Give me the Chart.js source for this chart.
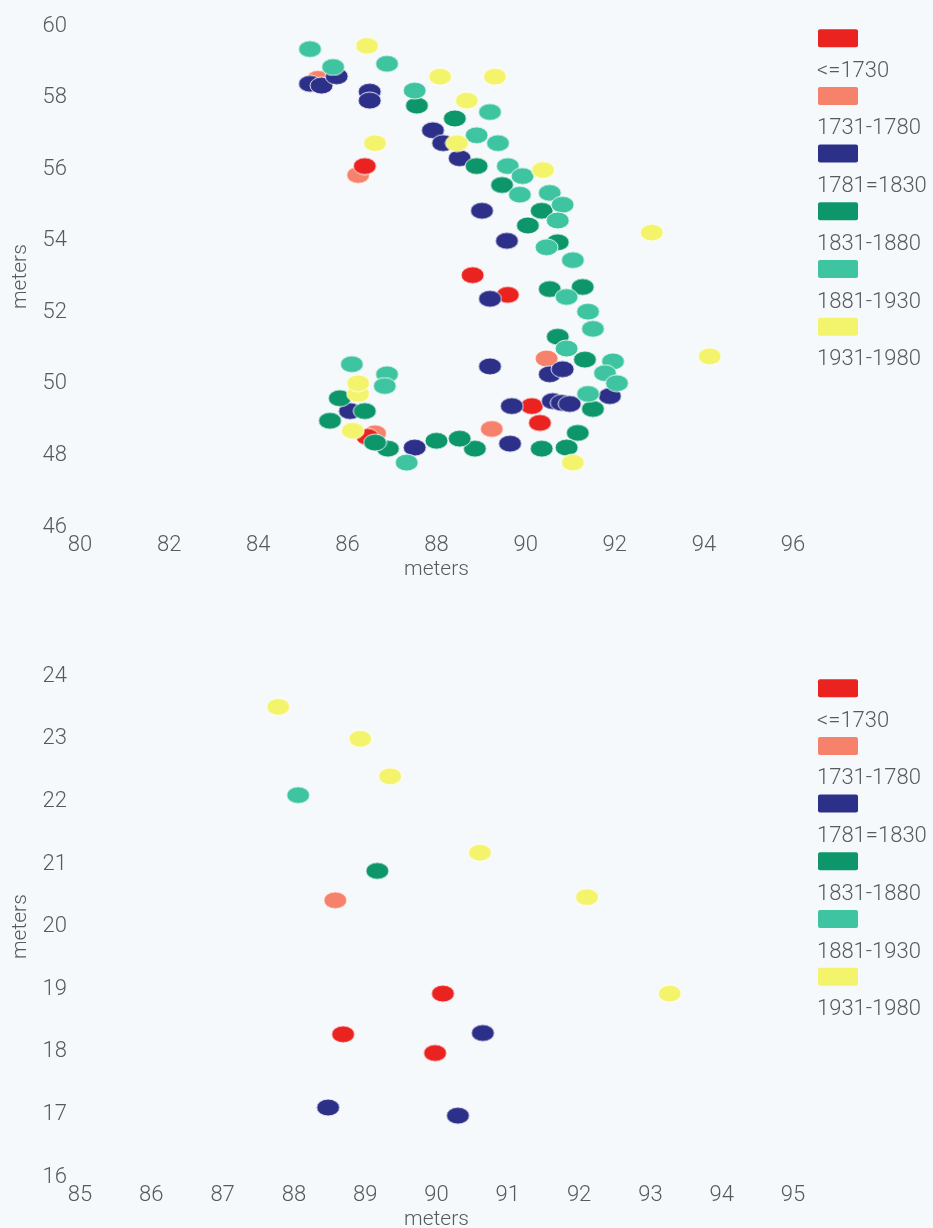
<!DOCTYPE html>
<html>
<head>
<meta charset="utf-8">
<script src="https://cdn.jsdelivr.net/npm/chart.js@4"></script>
<style>
  html, body { margin: 0; padding: 0; background: #f6f9fc; overflow: hidden; }
  .plot { position: absolute; left: 0; }
  #top-plot { top: 0; }
  #bottom-plot { top: 650px; }
</style>
</head>
<body>
<canvas id="top-plot" class="plot" width="933" height="582"></canvas>
<canvas id="bottom-plot" class="plot" width="933" height="582"></canvas>
<script>
// legend groups (order as in the legend)
const groups = ["<=1730", "1731-1780", "1781=1830", "1831-1880", "1881-1930", "1931-1980"];
const groupColors = ["#ea2320", "#f6826c", "#2d3088", "#0c9669", "#3ec4a0", "#f3f36c"];

// top chart: [x, y] in meters
const topRed = [[86.39, 56.09], [88.81, 53.04], [89.6, 52.49], [90.14, 49.38], [90.32, 48.91], [86.45, 48.52]];
const topSalmon = [[85.34, 58.53], [86.24, 55.84], [90.47, 50.71], [89.24, 48.74], [86.62, 48.62]];
const topNavy = [
  [85.16, 58.39], [85.42, 58.34], [85.76, 58.6], [86.5, 58.17], [86.5, 57.92],
  [87.92, 57.09], [88.15, 56.73], [88.52, 56.31], [89.02, 54.84], [89.58, 54.0],
  [89.2, 52.38], [89.2, 50.49], [90.54, 50.27], [90.83, 50.41], [89.69, 49.38],
  [90.61, 49.52], [90.81, 49.47], [90.99, 49.44], [91.89, 49.66], [89.65, 48.33],
  [87.51, 48.22], [86.06, 49.24]
];
const topGreen = [
  [87.56, 57.78], [88.41, 57.42], [88.9, 56.09], [89.47, 55.56], [90.36, 54.84],
  [90.05, 54.43], [90.72, 53.96], [90.54, 52.65], [91.28, 52.71], [90.72, 51.32],
  [91.33, 50.68], [91.51, 49.3], [91.17, 48.63], [90.36, 48.19], [90.92, 48.22],
  [88.86, 48.19], [88.52, 48.47], [88.0, 48.41], [86.91, 48.19], [86.62, 48.36],
  [85.61, 48.97], [86.39, 49.24], [85.83, 49.6]
];
const topTeal = [
  [85.16, 59.36], [85.68, 58.86], [86.89, 58.95], [87.51, 58.2], [89.2, 57.6],
  [88.9, 56.95], [89.38, 56.73], [89.6, 56.09], [89.93, 55.81], [89.87, 55.29],
  [90.54, 55.34], [90.83, 55.01], [90.72, 54.57], [90.47, 53.82], [91.06, 53.46],
  [90.92, 52.43], [91.4, 52.02], [91.51, 51.54], [90.92, 50.99], [91.96, 50.63],
  [91.78, 50.3], [92.05, 50.02], [91.4, 49.72], [87.33, 47.8], [86.1, 50.55],
  [86.89, 50.27], [86.84, 49.94]
];
const topYellow = [
  [86.44, 59.45], [88.08, 58.59], [89.31, 58.59], [88.68, 57.92], [88.46, 56.73],
  [86.62, 56.73], [90.39, 55.98], [92.83, 54.23], [94.13, 50.77], [91.06, 47.8],
  [86.24, 49.72], [86.24, 50.02], [86.12, 48.69]
];

// bottom chart: [x, y] in meters
const bottomRed = [[90.09, 18.93], [88.69, 18.28], [89.98, 17.98]];
const bottomSalmon = [[88.58, 20.42]];
const bottomNavy = [[90.65, 18.3], [88.48, 17.11], [90.3, 16.98]];
const bottomGreen = [[89.17, 20.89]];
const bottomTeal = [[88.06, 22.1]];
const bottomYellow = [[87.78, 23.51], [88.93, 23.0], [89.35, 22.4], [90.61, 21.18], [92.11, 20.47], [93.27, 18.93]];

// axis ranges / ticks
const topX = { min: 80, max: 96, step: 2 };
const topY = { min: 46, max: 60, step: 2 };
const bottomX = { min: 85, max: 95, step: 1 };
const bottomY = { min: 16, max: 24, step: 1 };

const FONT = "Roboto, 'Liberation Sans', sans-serif";
const TEXT_COLOR = "#555a5e";
const drawOrder = [4, 5, 3, 2, 1, 0]; // yellow & teal on top

// ellipse marker as a small canvas
function makeDot(color) {
  const c = document.createElement("canvas");
  c.width = 25;
  c.height = 19;
  const ctx = c.getContext("2d");
  ctx.beginPath();
  ctx.ellipse(12.5, 9.5, 11.5, 8.5, 0, 0, Math.PI * 2);
  ctx.fillStyle = color;
  ctx.fill();
  ctx.lineWidth = 1;
  ctx.strokeStyle = "rgba(255,255,255,0.85)";
  ctx.stroke();
  return c;
}

const dots = groupColors.map(makeDot);

const stackedLegend = {
  id: "stackedLegend",
  afterDraw(chart) {
    const ctx = chart.ctx;
    const left = chart.chartArea.right + 25;
    ctx.save();
    chart.data.datasets.forEach((ds, i) => {
      const top = chart.chartArea.top + 3 + i * 57.7;
      ctx.fillStyle = ds.backgroundColor;
      ctx.beginPath();
      ctx.roundRect(left, top, 40, 18, 2);
      ctx.fill();
      ctx.fillStyle = TEXT_COLOR;
      ctx.font = "300 22px " + FONT;
      ctx.textAlign = "left";
      ctx.textBaseline = "middle";
      ctx.fillText(ds.label, left - 1, top + 42);
    });
    ctx.restore();
  },
};

function makeDatasets(series) {
  return series.map((pts, i) => ({
    label: groups[i],
    data: pts.map((p) => ({ x: p[0], y: p[1] })),
    backgroundColor: groupColors[i],
    pointStyle: dots[i],
    pointRadius: 10,
    pointHoverRadius: 10,
    order: drawOrder[i],
  }));
}

function axis(range, isX) {
  return {
    type: "linear",
    min: range.min,
    max: range.max,
    grid: { display: false, drawTicks: false },
    border: { display: false },
    ticks: {
      stepSize: range.step,
      color: TEXT_COLOR,
      padding: isX ? 5 : 13,
      font: { family: FONT, size: 22, weight: 300 },
    },
    title: {
      display: true,
      text: "meters",
      color: TEXT_COLOR,
      font: { family: FONT, size: 21, weight: 300 },
      padding: isX ? { top: 0, bottom: 0 } : { top: 8, bottom: 0 },
    },
    afterFit: (scale) => {
      if (isX) scale.height = 55;
      else scale.width = 80;
    },
  };
}

function makeChart(id, series, xr, yr) {
  return new Chart(document.getElementById(id), {
    type: "scatter",
    data: { datasets: makeDatasets(series) },
    options: {
      responsive: false,
      animation: false,
      layout: { padding: { top: 22, right: 140, bottom: 0, left: 0 } },
      plugins: { legend: { display: false }, tooltip: { enabled: false } },
      scales: { x: axis(xr, true), y: axis(yr, false) },
    },
    plugins: [stackedLegend],
  });
}

makeChart("top-plot", [topRed, topSalmon, topNavy, topGreen, topTeal, topYellow], topX, topY);
makeChart("bottom-plot", [bottomRed, bottomSalmon, bottomNavy, bottomGreen, bottomTeal, bottomYellow], bottomX, bottomY);
</script>
</body>
</html>
